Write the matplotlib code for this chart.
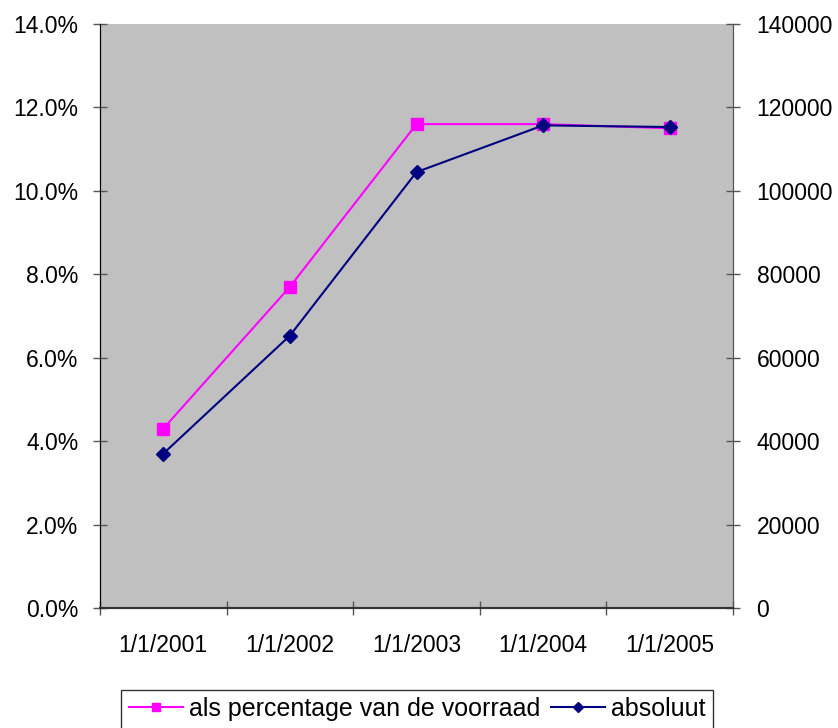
import matplotlib
matplotlib.use("Agg")
import matplotlib.pyplot as plt
from matplotlib.ticker import FuncFormatter, MultipleLocator

plt.rcParams['font.family'] = ['Liberation Sans', 'DejaVu Sans']

categories = ["1/1/2001", "1/1/2002", "1/1/2003", "1/1/2004", "1/1/2005"]
percentage = [4.3, 7.7, 11.6, 11.6, 11.5]
absolute = [37000, 65300, 104500, 115700, 115300]

FS = 16.5
LFS = 18

fig = plt.figure(figsize=(8.38, 7.28), dpi=100)
ax = fig.add_axes([100/838, 120/728, 633/838, 584/728])
ax2 = ax.twinx()
ax.set_facecolor('#C0C0C0')

x = list(range(len(categories)))
l1, = ax.plot(x, percentage, color='#FF00FF', marker='s', markersize=8, lw=1.5,
              label='als percentage van de voorraad')
l2, = ax2.plot(x, absolute, color='#000080', marker='D', markersize=7, lw=1.5,
               label='absoluut')

ax.set_xlim(-0.5, len(categories) - 0.5)
ax.set_ylim(0, 14)
ax2.set_ylim(0, 140000)
ax.yaxis.set_major_locator(MultipleLocator(2))
ax.yaxis.set_major_formatter(FuncFormatter(lambda v, p: f"{v:.1f}%"))
ax2.yaxis.set_major_locator(MultipleLocator(20000))
ax2.yaxis.set_major_formatter(FuncFormatter(lambda v, p: f"{int(v)}"))

ax.set_xticks([i - 0.5 for i in range(len(categories) + 1)])
ax.set_xticklabels([])
ax.set_xticks(x, minor=True)
ax.set_xticklabels(categories, minor=True)
ax.tick_params(axis='x', which='major', direction='inout', length=10, width=1, color='#555555')
ax.tick_params(axis='x', which='minor', length=0, pad=19, labelsize=FS)
ax.tick_params(axis='y', direction='inout', length=10, width=1, color='#555555', labelsize=FS, pad=10.5)
ax2.tick_params(axis='y', direction='inout', length=10, width=1, color='#555555', labelsize=FS, pad=12)

for a in (ax, ax2):
    a.spines['top'].set_visible(False)
    a.spines['left'].set_color('black')
    a.spines['right'].set_color('#555555')
    a.spines['bottom'].set_color('#333333')
    a.spines['bottom'].set_linewidth(1.5)

leg = fig.legend(handles=[l1, l2], loc='center', bbox_to_anchor=(417/838, 1 - 709/728),
                 ncol=2, fontsize=LFS, frameon=True, fancybox=False, edgecolor='black',
                 handlelength=2.16, handletextpad=0.24, columnspacing=0.44, borderpad=0.3,
                 borderaxespad=0, markerscale=0.8)
leg.get_frame().set_linewidth(1)

fig.savefig("out.png", dpi=100, facecolor='white')
